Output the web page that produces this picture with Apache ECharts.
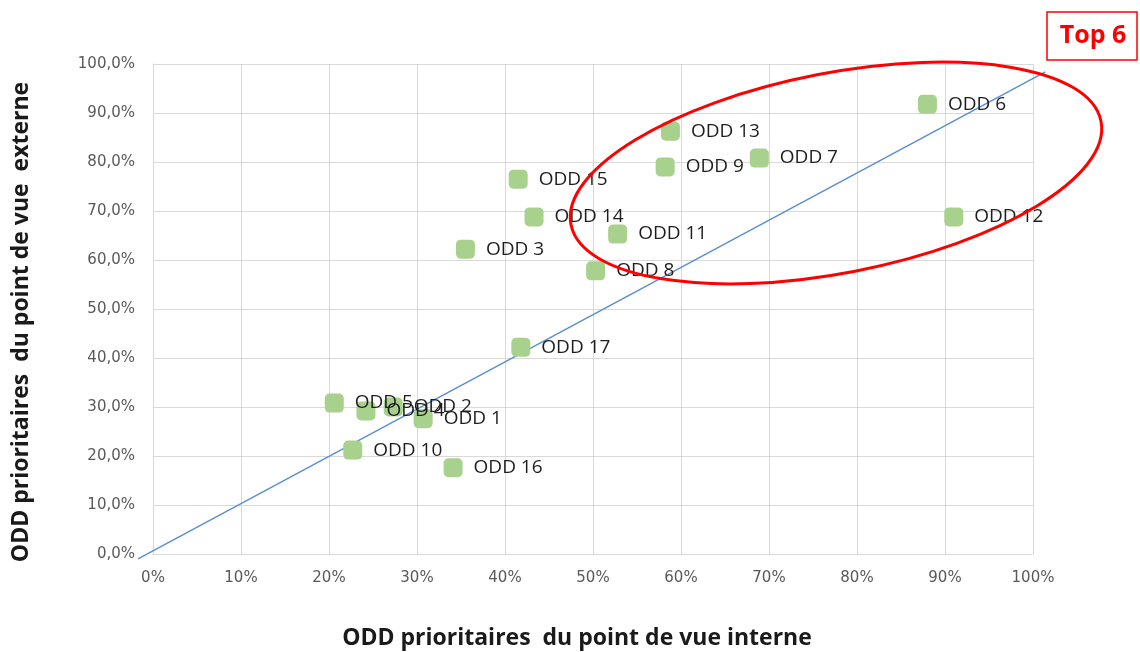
<!DOCTYPE html>
<html>
<head>
<meta charset="utf-8">
<script src="https://cdn.jsdelivr.net/npm/echarts@6/dist/echarts.min.js"></script>
<style>html,body{margin:0;padding:0;background:#fff;}#c{width:1140px;height:652px;}</style>
</head>
<body>
<div id="c"></div>
<script>
const labels = ['ODD 1','ODD 2','ODD 3','ODD 4','ODD 5','ODD 6','ODD 7','ODD 8','ODD 9','ODD 10','ODD 11','ODD 12','ODD 13','ODD 14','ODD 15','ODD 16','ODD 17'];
const interne = [30.7, 27.3, 35.5, 24.2, 20.6, 88.0, 68.9, 50.3, 58.2, 22.7, 52.8, 91.0, 58.8, 43.3, 41.5, 34.1, 41.8];
const externe = [27.6, 30.0, 62.2, 29.2, 30.8, 91.8, 80.8, 57.8, 79.0, 21.2, 65.3, 68.8, 86.3, 68.8, 76.5, 17.6, 42.2];
const trendX = [-1.7, 101.4];
const trendY = [-1.0, 98.4];
const xTicks = [0,10,20,30,40,50,60,70,80,90,100];
const yTicks = [0,10,20,30,40,50,60,70,80,90,100];
const xTitle = 'ODD prioritaires  du point de vue interne';
const yTitle = 'ODD prioritaires  du point de vue  externe';
const calloutText = 'Top 6';

const points = labels.map((n, i) => ({ name: n, value: [interne[i], externe[i]] }));
const trendSeg = [[trendX[0], trendY[0], trendX[1], trendY[1]]];

const chart = echarts.init(document.getElementById('c'), null, { renderer: 'canvas' });
chart.setOption({
  animation: false,
  backgroundColor: '#ffffff',
  grid: { left: 153, right: 107, top: 64, bottom: 98, containLabel: false, outerBoundsMode: 'none' },
  xAxis: {
    type: 'value', min: 0, max: 100, interval: 10,
    name: xTitle, nameLocation: 'middle', nameGap: 73,
    nameTextStyle: { fontFamily: 'Open Sans', fontWeight: 'bold', fontSize: 23, color: '#1a1a1a', padding: [0, 32, 0, 0] },
    axisLine: { show: true, lineStyle: { color: '#d9d9d9', width: 1 } },
    axisTick: { show: false },
    axisLabel: { fontFamily: 'DejaVu Sans', fontSize: 15, color: '#595959', margin: 17,
      formatter: v => xTicks.includes(v) ? v + '%' : '' },
    splitLine: { show: true, lineStyle: { color: '#d9d9d9', width: 1 } }
  },
  yAxis: {
    type: 'value', min: 0, max: 100, interval: 10,
    name: yTitle, nameLocation: 'middle', nameGap: 120,
    nameTextStyle: { fontFamily: 'Open Sans', fontWeight: 'bold', fontSize: 23, color: '#1a1a1a', padding: [0, 26, 0, 0] },
    axisLine: { show: true, lineStyle: { color: '#d9d9d9', width: 1 } },
    axisTick: { show: false },
    axisLabel: { fontFamily: 'DejaVu Sans', fontSize: 15, color: '#595959', margin: 18,
      formatter: v => yTicks.includes(v) ? v.toFixed(1).replace('.', ',') + '%' : '' },
    splitLine: { show: true, lineStyle: { color: '#d9d9d9', width: 1 } }
  },
  series: [
    {
      type: 'custom', data: trendSeg, clip: false, silent: true, z: 2,
      encode: { x: [0, 2], y: [1, 3] },
      renderItem: (params, api) => {
        const p1 = api.coord([api.value(0), api.value(1)]);
        const p2 = api.coord([api.value(2), api.value(3)]);
        return { type: 'line', shape: { x1: p1[0], y1: p1[1], x2: p2[0], y2: p2[1] },
          style: { stroke: '#5b8fd0', lineWidth: 1.5 } };
      }
    },
    {
      type: 'scatter', data: points, symbol: 'roundRect', symbolSize: 19, clip: false,
      itemStyle: { color: '#a9d18e', opacity: 1 }, z: 3,
      label: { show: true, position: 'right', distance: 11, formatter: p => p.name,
        fontFamily: 'Open Sans', fontSize: 19, color: '#1e1e1e' }
    }
  ],
  graphic: [
    { type: 'ellipse', x: 836, y: 173, rotation: 11 * Math.PI / 180,
      shape: { cx: 0, cy: 0, rx: 270, ry: 100 },
      style: { fill: 'none', stroke: '#ff0000', lineWidth: 3 }, z: 10 },
    { type: 'rect', shape: { x: 1047, y: 12, width: 90, height: 48 },
      style: { fill: '#ffffff', stroke: '#ff0000', lineWidth: 1.5 }, z: 10 },
    { type: 'text', x: 1093, y: 36, z: 11,
      style: { text: calloutText, fill: '#ff0000', font: 'bold 25px "Open Sans"', align: 'center', verticalAlign: 'middle' } }
  ]
});
</script>
</body>
</html>
